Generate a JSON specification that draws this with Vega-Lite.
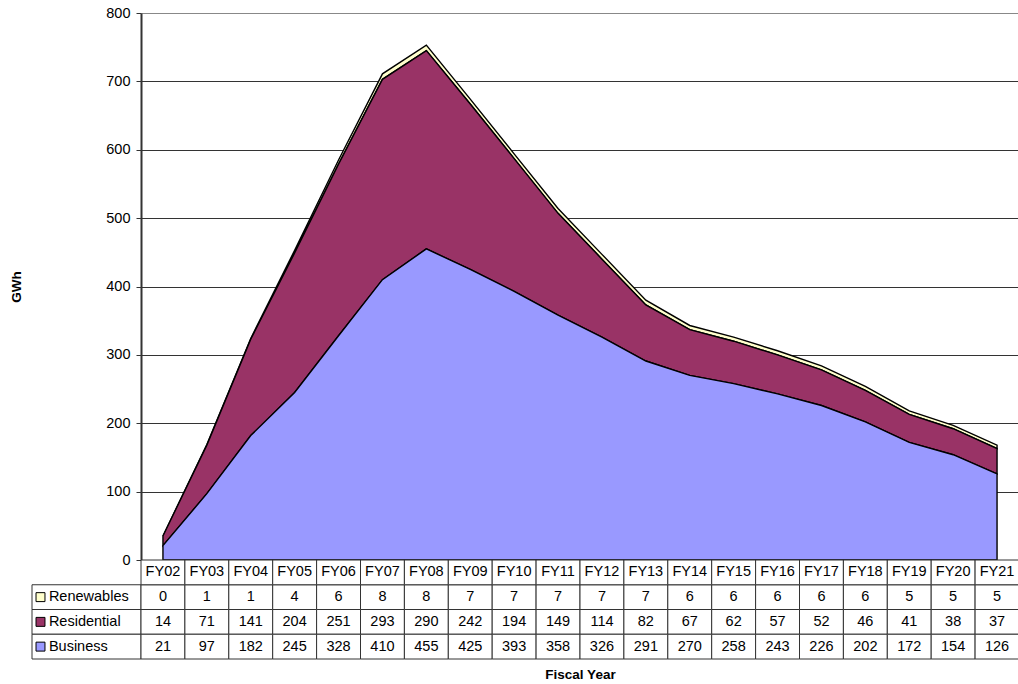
{
  "$schema": "https://vega.github.io/schema/vega-lite/v6.json",
  "padding": {"left": 9, "top": 5, "right": 0, "bottom": 0},
  "bounds": "flush",
  "columns": 2,
  "spacing": 0,
  "datasets": {
    "d": [
      {"fy": "FY02", "series": "Renewables", "value": 0},
      {"fy": "FY03", "series": "Renewables", "value": 1},
      {"fy": "FY04", "series": "Renewables", "value": 1},
      {"fy": "FY05", "series": "Renewables", "value": 4},
      {"fy": "FY06", "series": "Renewables", "value": 6},
      {"fy": "FY07", "series": "Renewables", "value": 8},
      {"fy": "FY08", "series": "Renewables", "value": 8},
      {"fy": "FY09", "series": "Renewables", "value": 7},
      {"fy": "FY10", "series": "Renewables", "value": 7},
      {"fy": "FY11", "series": "Renewables", "value": 7},
      {"fy": "FY12", "series": "Renewables", "value": 7},
      {"fy": "FY13", "series": "Renewables", "value": 7},
      {"fy": "FY14", "series": "Renewables", "value": 6},
      {"fy": "FY15", "series": "Renewables", "value": 6},
      {"fy": "FY16", "series": "Renewables", "value": 6},
      {"fy": "FY17", "series": "Renewables", "value": 6},
      {"fy": "FY18", "series": "Renewables", "value": 6},
      {"fy": "FY19", "series": "Renewables", "value": 5},
      {"fy": "FY20", "series": "Renewables", "value": 5},
      {"fy": "FY21", "series": "Renewables", "value": 5},
      {"fy": "FY02", "series": "Residential", "value": 14},
      {"fy": "FY03", "series": "Residential", "value": 71},
      {"fy": "FY04", "series": "Residential", "value": 141},
      {"fy": "FY05", "series": "Residential", "value": 204},
      {"fy": "FY06", "series": "Residential", "value": 251},
      {"fy": "FY07", "series": "Residential", "value": 293},
      {"fy": "FY08", "series": "Residential", "value": 290},
      {"fy": "FY09", "series": "Residential", "value": 242},
      {"fy": "FY10", "series": "Residential", "value": 194},
      {"fy": "FY11", "series": "Residential", "value": 149},
      {"fy": "FY12", "series": "Residential", "value": 114},
      {"fy": "FY13", "series": "Residential", "value": 82},
      {"fy": "FY14", "series": "Residential", "value": 67},
      {"fy": "FY15", "series": "Residential", "value": 62},
      {"fy": "FY16", "series": "Residential", "value": 57},
      {"fy": "FY17", "series": "Residential", "value": 52},
      {"fy": "FY18", "series": "Residential", "value": 46},
      {"fy": "FY19", "series": "Residential", "value": 41},
      {"fy": "FY20", "series": "Residential", "value": 38},
      {"fy": "FY21", "series": "Residential", "value": 37},
      {"fy": "FY02", "series": "Business", "value": 21},
      {"fy": "FY03", "series": "Business", "value": 97},
      {"fy": "FY04", "series": "Business", "value": 182},
      {"fy": "FY05", "series": "Business", "value": 245},
      {"fy": "FY06", "series": "Business", "value": 328},
      {"fy": "FY07", "series": "Business", "value": 410},
      {"fy": "FY08", "series": "Business", "value": 455},
      {"fy": "FY09", "series": "Business", "value": 425},
      {"fy": "FY10", "series": "Business", "value": 393},
      {"fy": "FY11", "series": "Business", "value": 358},
      {"fy": "FY12", "series": "Business", "value": 326},
      {"fy": "FY13", "series": "Business", "value": 291},
      {"fy": "FY14", "series": "Business", "value": 270},
      {"fy": "FY15", "series": "Business", "value": 258},
      {"fy": "FY16", "series": "Business", "value": 243},
      {"fy": "FY17", "series": "Business", "value": 226},
      {"fy": "FY18", "series": "Business", "value": 202},
      {"fy": "FY19", "series": "Business", "value": 172},
      {"fy": "FY20", "series": "Business", "value": 154},
      {"fy": "FY21", "series": "Business", "value": 126}
    ]
  },
  "concat": [
    {
      "width": 109,
      "height": 547,
      "data": {"values": []},
      "mark": "point",
      "encoding": {}
    },
    {
      "width": 878,
      "height": 547,
      "data": {"name": "d"},
      "transform": [{"calculate": "indexof(['Business','Residential','Renewables'], datum.series)", "as": "stackOrder"}],
      "mark": {"type": "area", "stroke": "black", "strokeWidth": 1.4, "opacity": 1, "fillOpacity": 1},
      "encoding": {
        "x": {"field": "fy", "type": "ordinal", "scale": {"type": "point", "padding": 0.5}, "axis": null},
        "y": {
          "field": "value",
          "type": "quantitative",
          "stack": "zero",
          "scale": {"domain": [0, 800], "nice": false},
          "axis": {
            "values": [0, 100, 200, 300, 400, 500, 600, 700, 800],
            "title": "GWh",
            "titleX": -118,
            "titleFontWeight": "bold",
            "titleFontSize": 13.5,
            "titleColor": "black",
            "labelFontSize": 14.5,
            "labelColor": "black",
            "labelPadding": 6,
            "tickSize": 5,
            "tickColor": "#333",
            "domainColor": "#333",
            "domainWidth": 2,
            "grid": true,
            "gridColor": {"condition": {"test": "datum.value == 800", "value": "#888"}, "value": "#333"},
            "gridWidth": 1,
            "gridOpacity": 1
          }
        },
        "order": {"field": "stackOrder", "type": "quantitative", "sort": "ascending"},
        "color": {
          "field": "series",
          "type": "nominal",
          "scale": {"domain": ["Business", "Residential", "Renewables"], "range": ["#9999FF", "#993366", "#FFFFCC"]},
          "legend": null
        }
      }
    },
    {
      "width": 109,
      "height": 99,
      "data": {"name": "d"},
      "transform": [{"filter": "datum.fy == 'FY02'"}],
      "encoding": {
        "y": {
          "field": "series",
          "type": "nominal",
          "scale": {"domain": ["FY", "Renewables", "Residential", "Business"], "paddingInner": 0, "paddingOuter": 0},
          "axis": null
        }
      },
      "layer": [
        {"mark": {"type": "rect", "fill": "white", "stroke": "#333", "strokeWidth": 1}},
        {
          "mark": {"type": "point", "shape": "square", "size": 80, "filled": true, "stroke": "black", "strokeWidth": 1, "opacity": 1},
          "encoding": {
            "x": {"datum": 0.078, "type": "quantitative", "scale": {"domain": [0, 1], "nice": false, "zero": false}, "axis": null},
            "fill": {
              "field": "series",
              "type": "nominal",
              "scale": {"domain": ["Business", "Residential", "Renewables"], "range": ["#9999FF", "#993366", "#FFFFCC"]},
              "legend": null
            }
          }
        },
        {
          "mark": {"type": "text", "align": "left", "baseline": "middle", "fontSize": 14.5, "color": "black"},
          "encoding": {
            "x": {"datum": 0.155, "type": "quantitative"},
            "text": {"field": "series"}
          }
        }
      ]
    },
    {
      "width": 878,
      "height": 99,
      "data": {"name": "d"},
      "encoding": {
        "x": {
          "field": "fy",
          "type": "ordinal",
          "scale": {"paddingInner": 0, "paddingOuter": 0},
          "axis": {"labels": false, "ticks": false, "domain": false, "title": "Fiscal Year", "titleFontWeight": "bold", "titleFontSize": 13.5, "titleColor": "black", "titlePadding": 8}
        }
      },
      "layer": [
        {
          "mark": {"type": "rect", "fill": "white", "stroke": "#333", "strokeWidth": 1},
          "encoding": {
            "y": {
              "field": "series",
              "type": "nominal",
              "scale": {"domain": ["FY", "Renewables", "Residential", "Business"], "paddingInner": 0, "paddingOuter": 0},
              "axis": null
            }
          }
        },
        {
          "transform": [{"filter": "datum.series == 'Business'"}],
          "mark": {"type": "rect", "fill": "white", "stroke": "#333", "strokeWidth": 1},
          "encoding": {"y": {"datum": "FY", "type": "nominal"}}
        },
        {
          "mark": {"type": "text", "baseline": "middle", "fontSize": 14.5, "color": "black"},
          "encoding": {
            "y": {"field": "series", "type": "nominal"},
            "text": {"field": "value", "type": "quantitative"}
          }
        },
        {
          "transform": [{"filter": "datum.series == 'Business'"}],
          "mark": {"type": "text", "baseline": "middle", "fontSize": 14.5, "color": "black"},
          "encoding": {
            "y": {"datum": "FY", "type": "nominal"},
            "text": {"field": "fy"}
          }
        }
      ]
    }
  ],
  "config": {
    "view": {"stroke": null},
    "font": "Liberation Sans",
    "background": "white"
  }
}
